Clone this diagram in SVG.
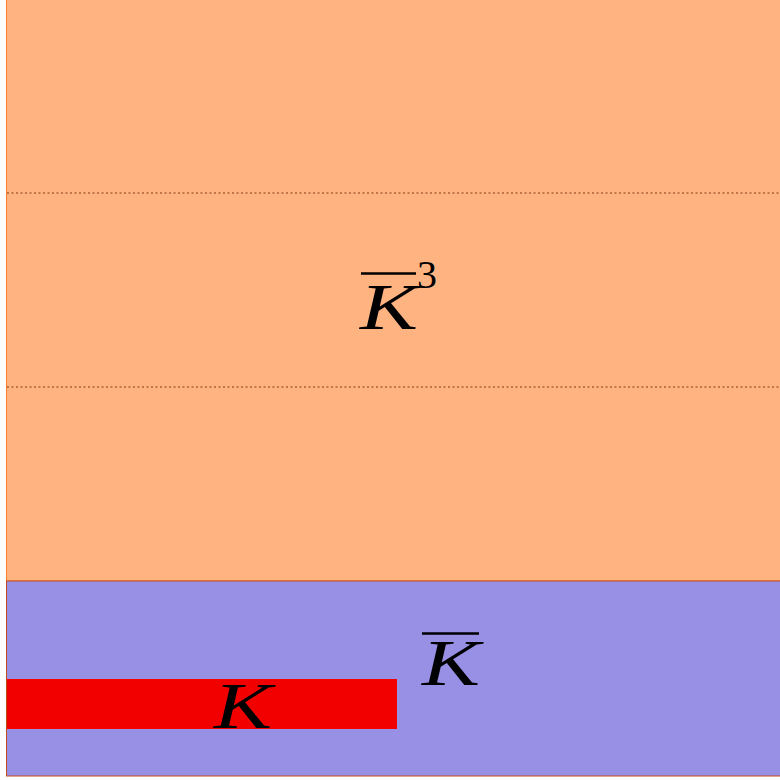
<svg xmlns="http://www.w3.org/2000/svg" width="780" height="780" viewBox="0 0 780 780">
<style>
.m{font-family:"Liberation Serif","DejaVu Serif",serif;font-style:italic;fill:#000;font-size:66px}
.n{font-family:"Liberation Serif","DejaVu Serif",serif;fill:#000;font-size:40px}
.bar{stroke:#000;stroke-width:2.5}
.dot{stroke:#7a3a10;stroke-width:1;stroke-dasharray:2 2.5}
</style>
<rect width="780" height="780" fill="#ffffff"/>
<g id="orange">
<rect x="6.5" y="-2" width="780" height="583" fill="#ffb380" stroke="#ff7f2a" stroke-width="1"/>
</g>
<g id="lines">
<line class="dot" x1="7" y1="193" x2="780" y2="193"/>
<line class="dot" x1="7" y1="387" x2="780" y2="387"/>
</g>
<g id="blue">
<rect x="6.5" y="581" width="780" height="195" fill="#9890e4" stroke="#c04a1a" stroke-width="1"/>
</g>
<g id="red">
<rect x="7" y="679" width="390" height="50" fill="#f20000"/>
</g>
<g id="label-k3">
<line class="bar" x1="361" y1="273.5" x2="416" y2="273.5"/>
<text class="m" x="360" y="329" textLength="58" lengthAdjust="spacingAndGlyphs">K</text>
<text class="n" x="417" y="288">3</text>
</g>
<g id="label-kbar">
<line class="bar" x1="422" y1="633.5" x2="479" y2="633.5"/>
<text class="m" x="422" y="685" textLength="58" lengthAdjust="spacingAndGlyphs">K</text>
</g>
<g id="label-k">
<text class="m" x="214" y="728" textLength="58" lengthAdjust="spacingAndGlyphs">K</text>
</g>
</svg>
